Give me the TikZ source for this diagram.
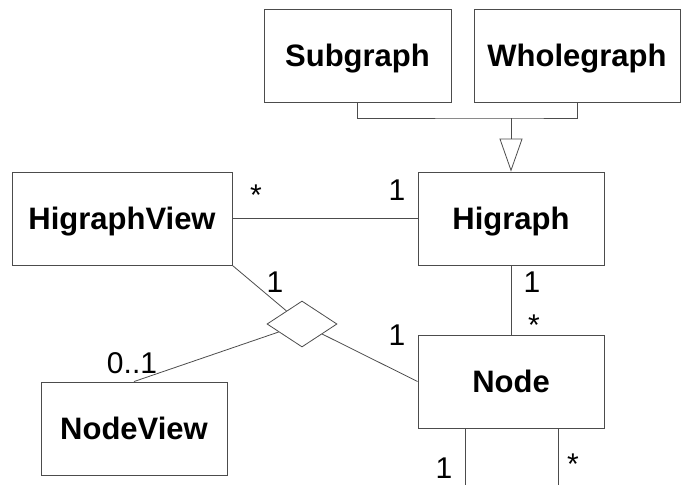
\documentclass[tikz,border=0pt]{standalone}
\usepackage{fontspec}
\setmainfont{Liberation Sans}
\usetikzlibrary{shapes.geometric,arrows.meta}

\tikzset{
  classbox/.style={draw=black!70, line width=0.9pt, rectangle, inner sep=0pt,
    minimum height=93pt, font=\fontsize{31}{31}\selectfont\bfseries,
    text height=22pt, text depth=0pt},
  conn/.style={draw=black!70, line width=0.8pt},
  mult/.style={anchor=base, inner sep=0pt, font=\fontsize{30}{30}\selectfont},
  relation/.style={diamond, draw=black!70, line width=0.8pt, inner sep=0pt,
    minimum width=70pt, minimum height=46pt},
}

\begin{document}
\begin{tikzpicture}[x=1pt, y=-1pt]
  \useasboundingbox (0,0) rectangle (688,485);

  % classes
  \node[classbox, minimum width=187pt] (sg) at (357.5,55.5) {Subgraph};
  \node[classbox, minimum width=206pt] (wg) at (577,55.5) {Wholegraph};
  \node[classbox, minimum width=220pt] (hv) at (122,218.5) {HigraphView};
  \node[classbox, minimum width=186pt] (hg) at (511,218.5) {Higraph};
  \node[classbox, minimum width=186pt] (nd) at (511,381.5) {Node};
  \node[classbox, minimum width=186pt] (nv) at (134,428.5) {NodeView};

  % ternary association
  \node[relation] (rel) at (302,324) {};

  % generalisation
  \coordinate (joint) at (511,118);
  \draw[conn] (sg.south) |- (joint) -| (wg.south);
  \draw[conn, -{Triangle[open, length=33pt, width=23pt]}] (joint) -- (hg.north);

  % associations
  \draw[conn] (hv.east) -- (hg.west);
  \draw[conn] (hg.south) -- (nd.north);
  \draw[conn] (hv.south east) -- (rel);
  \draw[conn] (nv.north) -- (rel);
  \draw[conn] (nd.west) -- (rel);

  % self association leaving the bottom of Node
  \coordinate (selfa) at (465,485);
  \coordinate (selfb) at (558,485);
  \draw[conn] (nd.south -| selfa) -- (selfa);
  \draw[conn] (nd.south -| selfb) -- (selfb);

  % multiplicities
  \node[mult] (m1) at (256,205) {*};
  \node[mult] (m2) at (397,200) {1};
  \node[mult] (m3) at (532,292) {1};
  \node[mult] (m4) at (534,335) {*};
  \node[mult] (m5) at (275,292) {1};
  \node[mult] (m6) at (397,345) {1};
  \node[mult] (m7) at (132,373) {0..1};
  \node[mult] (m8) at (444,478) {1};
  \node[mult] (m9) at (573,474) {*};
\end{tikzpicture}
\end{document}
